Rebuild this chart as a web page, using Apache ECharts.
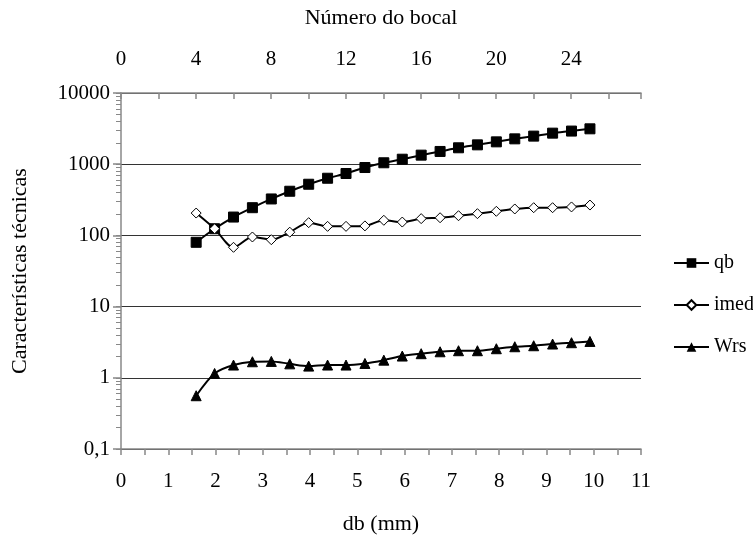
<!DOCTYPE html>
<html>
<head>
<meta charset="utf-8">
<script src="https://cdn.jsdelivr.net/npm/echarts@6/dist/echarts.min.js"></script>
<style>
  html, body { margin: 0; padding: 0; background: #fff; }
  #chart { width: 753px; height: 536px; }
</style>
</head>
<body>
<div id="chart"></div>
<script>
// bocal diameter db (mm) for bocal numbers 4..25
const db = [1.59, 1.98, 2.38, 2.78, 3.18, 3.57, 3.97, 4.37, 4.76, 5.16, 5.56,
            5.95, 6.35, 6.75, 7.14, 7.54, 7.94, 8.33, 8.73, 9.13, 9.53, 9.92];
const qb = [80, 124, 181, 245, 325, 417, 523, 635, 740, 898, 1047,
            1175, 1340, 1510, 1700, 1870, 2060, 2270, 2480, 2730, 2920, 3140];
const imed = [206, 124, 68, 95, 87, 111, 151, 134, 134, 136, 163,
              154, 172, 177, 189, 202, 218, 235, 245, 245, 251, 267];
const wrs = [0.56, 1.15, 1.51, 1.68, 1.70, 1.57, 1.46, 1.51, 1.51, 1.59, 1.77,
             2.02, 2.18, 2.32, 2.40, 2.40, 2.56, 2.73, 2.82, 2.98, 3.11, 3.24];

// minor ticks of the log axis: 1..9 in each decade
const yTicks = [];
[0.1, 1, 10, 100, 1000].forEach(function (d) {
  for (let k = 1; k <= 9; k++) yTicks.push(+(d * k).toPrecision(3));
});
yTicks.push(10000);

const font = 'Liberation Serif';
const txt = { fontFamily: font, fontSize: 21, color: '#000' };
const nameTxt = { fontFamily: font, fontSize: 22, color: '#000' };

function pairs(ys) {
  return db.map(function (x, i) { return [x, ys[i]]; });
}

const chart = echarts.init(document.getElementById('chart'));

const option = {
  animation: false,
  backgroundColor: '#fff',
  grid: { left: 121, right: 112, top: 93, bottom: 87, outerBoundsMode: 'none' },
  legend: {
    orient: 'vertical',
    left: 668,
    top: 248,
    itemGap: 22,
    itemWidth: 35,
    itemHeight: 12,
    textStyle: { fontFamily: font, fontSize: 20, color: '#000' },
    data: ['qb', 'imed', 'Wrs']
  },
  xAxis: [
    {
      type: 'value',
      position: 'bottom',
      min: 0,
      max: 11,
      interval: 0.5,
      name: 'db (mm)',
      nameLocation: 'middle',
      nameGap: 64,
      nameMoveOverlap: false,
      nameTextStyle: nameTxt,
      axisLine: { onZero: false, lineStyle: { color: '#888', width: 1.5 } },
      axisTick: { show: true, length: 6, lineStyle: { color: '#888', width: 1.5 } },
      axisLabel: Object.assign({
        margin: 22,
        formatter: function (v) { return Number.isInteger(v) ? String(v) : ''; }
      }, txt),
      splitLine: { show: false }
    },
    {
      type: 'value',
      position: 'top',
      min: 0,
      max: 27.72,
      interval: 2,
      name: 'Número do bocal',
      nameLocation: 'middle',
      nameGap: 64,
      nameMoveOverlap: false,
      nameTextStyle: nameTxt,
      axisLine: { onZero: false, lineStyle: { color: '#888', width: 1.5 } },
      axisTick: { show: true, inside: true, length: 6, lineStyle: { color: '#888', width: 1.5 } },
      axisLabel: Object.assign({
        margin: 23,
        formatter: function (v) { return (v % 4 === 0) ? String(v) : ''; }
      }, txt),
      splitLine: { show: false }
    }
  ],
  yAxis: [
    {
      type: 'log',
      logBase: 10,
      min: 0.1,
      max: 10000,
      name: 'Características técnicas',
      nameLocation: 'middle',
      nameGap: 90,
      nameMoveOverlap: false,
      nameTextStyle: nameTxt,
      axisLine: { show: true, lineStyle: { color: '#888', width: 1.5 } },
      axisTick: { show: true, length: 8, lineStyle: { color: '#888', width: 1.5 } },
      axisLabel: Object.assign({
        margin: 11,
        formatter: function (v) { return String(v).replace('.', ','); }
      }, txt),
      splitLine: { show: true, lineStyle: { color: '#333', width: 1 } }
    },
    {
      // carries only the small ticks of each decade
      type: 'log',
      logBase: 10,
      min: 0.1,
      max: 10000,
      position: 'left',
      axisLine: { show: false },
      axisTick: { show: true, length: 5, customValues: yTicks, lineStyle: { color: '#888', width: 1 } },
      axisLabel: { show: false },
      splitLine: { show: false }
    }
  ],
  series: [
    {
      name: 'qb',
      type: 'line',
      smooth: 0.3,
      data: pairs(qb),
      symbol: 'rect',
      symbolSize: 10,
      itemStyle: { color: '#000', borderColor: '#000' },
      lineStyle: { color: '#000', width: 2 }
    },
    {
      name: 'imed',
      type: 'line',
      smooth: 0.3,
      data: pairs(imed),
      symbol: 'diamond',
      symbolSize: 10,
      itemStyle: { color: '#fff', borderColor: '#000', borderWidth: 1 },
      lineStyle: { color: '#000', width: 2 }
    },
    {
      name: 'Wrs',
      type: 'line',
      smooth: 0.3,
      data: pairs(wrs),
      symbol: 'triangle',
      symbolSize: 10,
      itemStyle: { color: '#000', borderColor: '#000' },
      lineStyle: { color: '#000', width: 2 }
    }
  ]
};

chart.setOption(option);
</script>
</body>
</html>
